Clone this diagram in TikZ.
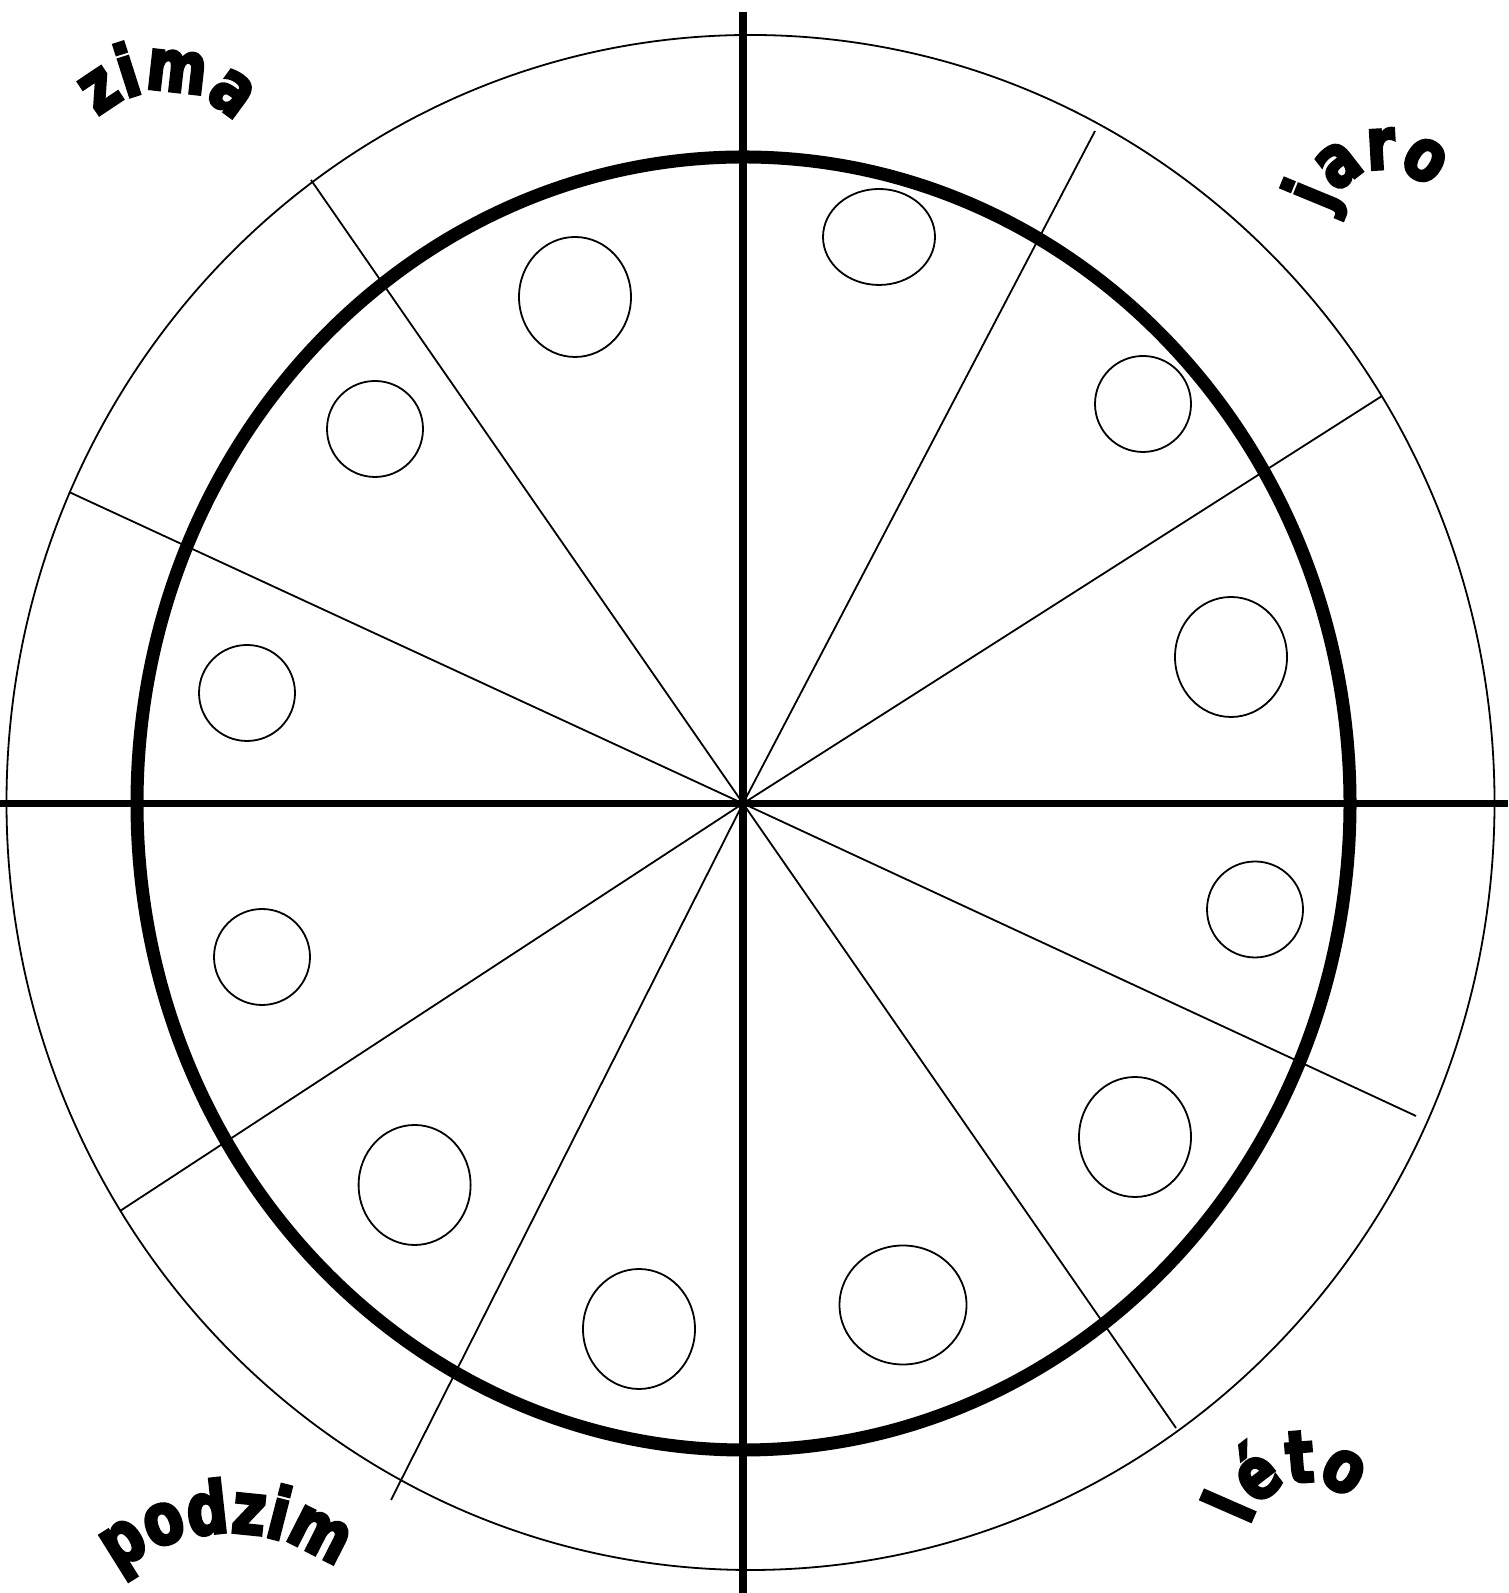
\documentclass[tikz,border=0pt]{standalone}
\usepackage{fontspec}
\usetikzlibrary{decorations.text}
\newfontfamily\heavy{DejaVu Sans Bold}[FakeStretch=0.8,FakeBold=4]
\begin{document}
\begin{tikzpicture}[x=0.5pt,y=0.5pt,
  thinline/.style={line width=0.9pt,black},
  axisline/.style={line width=3.6pt,black},
  ringline/.style={line width=6.5pt,black},
  hole/.style={line width=0.9pt,black},
  arctext/.style={decorate,decoration={text along path,text align=center,text={|\heavy\fontsize{36}{36}\selectfont|#1}}}]
\useasboundingbox (0,0) rectangle (1508,1593);
% centre
\coordinate (O) at (743,789.5);
% outer ring
\draw[thinline] (750.5,790.5) ellipse (744 and 767.5);
% radial lines
\coordinate (A) at (1095,1462);
\coordinate (A2) at (391,93);
\coordinate (B) at (1382,1197);
\coordinate (B2) at (120,382);
\coordinate (C) at (311,1413);
\coordinate (C2) at (1176,165);
\coordinate (D) at (69,1101);
\coordinate (D2) at (1416,477);
\foreach \p in {A,A2,B,B2,C,C2,D,D2} \draw[thinline] (O) -- (\p);
% inner thick ring
\draw[ringline] (743.5,789.5) ellipse (606.5 and 646.5);
% axes
\coordinate (Vt) at (743,1581);
\coordinate (Vb) at (743,0);
\coordinate (Hl) at (0,789.5);
\coordinate (Hr) at (1508,789.5);
\draw[axisline] (Vt) -- (Vb);
\draw[axisline] (Hl) -- (Hr);
% small holes
\draw[hole] (879,1356) ellipse (56 and 48);
\draw[hole] (1143,1189) ellipse (48 and 48);
\draw[hole] (1231,936) ellipse (56 and 60);
\draw[hole] (1255,683.5) ellipse (48 and 48);
\draw[hole] (1135,456) ellipse (56 and 60);
\draw[hole] (903,288) ellipse (63.5 and 59.5);
\draw[hole] (639,264) ellipse (56 and 60);
\draw[hole] (414.6,408) ellipse (56 and 60);
\draw[hole] (262,636) ellipse (48 and 48);
\draw[hole] (247,900) ellipse (48 and 48);
\draw[hole] (375,1164) ellipse (48 and 48);
\draw[hole] (575,1296) ellipse (56 and 60);
% season labels
\path[arctext=zima] (164,1407) ++(168:95) arc[start angle=168,end angle=8,radius=95];
\path[arctext=jaro] (1385,1368) ++(183:56) arc[start angle=183,end angle=23,radius=56];
\path[arctext=podzim] (229,-119) ++(161:179) arc[start angle=161,end angle=21,radius=179];
\path[arctext=léto] (1306,53) ++(184:58) arc[start angle=184,end angle=24,radius=58];
\end{tikzpicture}
\end{document}
